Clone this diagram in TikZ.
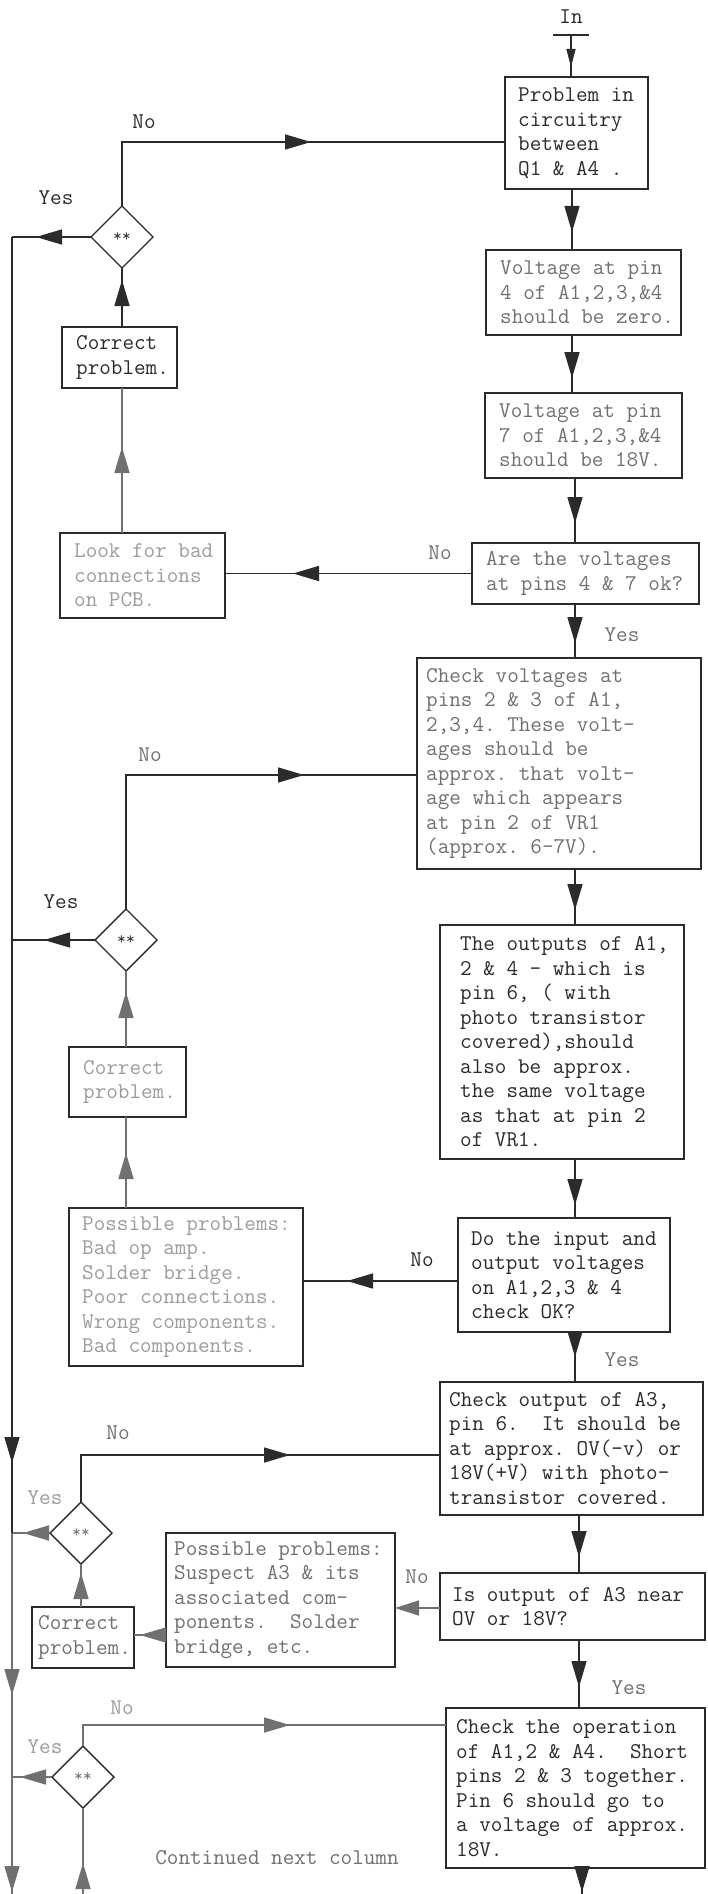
\documentclass[tikz,border=0pt]{standalone}
\usepackage{fontspec}
\usetikzlibrary{arrows.meta,decorations.markings,shapes.geometric}
\definecolor{ink}{HTML}{2B2B2B}
\definecolor{fade}{HTML}{707070}
\definecolor{pale}{HTML}{9C9C9C}
\newcommand{\typeface}{\ttfamily\fontsize{22.5}{24.5}\selectfont}
\newcommand{\starface}{\ttfamily\fontsize{17}{17}\selectfont}
\frenchspacing
\tikzset{
  frame/.style={draw=ink, line width=1.4pt, inner sep=0pt, outer sep=0pt},
  txt/.style={font=\typeface, align=left, inner sep=0pt, anchor=west, text=ink},
  lbl/.style={font=\typeface, inner sep=0pt, text=ink},
  decide/.style={draw=ink, diamond, line width=1.4pt, minimum width=62pt,
    minimum height=62pt, inner sep=0pt, outer sep=0pt, font=\starface, text=ink},
  wire/.style={draw=ink, line width=1.5pt},
  tipat/.style={postaction={decorate}, decoration={markings,
    mark=at position #1 with {\arrow{Triangle[length=26pt,width=15pt]}}}},
  tipsmall/.style={postaction={decorate}, decoration={markings,
    mark=at position #1 with {\arrow{Triangle[length=18pt,width=9pt]}}}},
}
\begin{document}
\begin{tikzpicture}[x=1pt,y=-1pt]
\useasboundingbox (0,0) rectangle (707,1894);
\fill[white] (0,0) rectangle (707,1894);

% guide coordinates
\coordinate (trunk) at (12,0);
\coordinate (bot) at (0,1894);
\coordinate (colA) at (572,0);
\coordinate (colB) at (575,0);
\coordinate (colC) at (579,0);
\coordinate (colD) at (582,0);
\coordinate (r1) at (0,142);
\coordinate (r2) at (0,775);
\coordinate (r3) at (0,1281);
\coordinate (r4) at (0,1455);
\coordinate (r5) at (0,1608);
\coordinate (r6) at (0,1635);
\coordinate (r7) at (0,1725);
\coordinate (in) at (571,35);

% ---------- main column ----------
\node[frame, minimum width=143pt, minimum height=112pt] (b1) at (576.5,133) {};
\node[txt] (b1t) at ([xshift=13pt]b1.west) {Problem in\\circuitry\\between\\Q1 \& A4 .};

\node[frame, minimum width=195pt, minimum height=85pt] (b2) at (583.5,292.5) {};
\node[txt, text=fade] (b2t) at ([xshift=14pt]b2.west) {Voltage at pin\\4 of A1,2,3,\&4\\should be zero.};

\node[frame, minimum width=197pt, minimum height=85pt] (b3) at (583.5,435.5) {};
\node[txt, text=fade] (b3t) at ([xshift=14pt]b3.west) {Voltage at pin\\7 of A1,2,3,\&4\\should be 18V.};

\node[frame, minimum width=227pt, minimum height=61pt] (b4) at (585.5,573.5) {};
\node[txt, text=fade] (b4t) at ([xshift=14pt]b4.west) {Are the voltages\\at pins 4 \& 7 ok?};

\node[frame, minimum width=284pt, minimum height=211pt] (b5) at (559,763.5) {};
\node[txt, text=fade] (b5t) at ([xshift=9pt]b5.west) {Check voltages at\\pins 2 \& 3 of A1,\\2,3,4. These volt-\\ages should be\\approx. that volt-\\age which appears\\at pin 2 of VR1\\(approx. 6-7V).};

\node[frame, minimum width=244pt, minimum height=234pt] (b6) at (562,1042) {};
\node[txt] (b6t) at ([xshift=20pt]b6.west) {The outputs of A1,\\2 \& 4 - which is\\pin 6, ( with\\photo transistor\\covered),should\\also be approx.\\the same voltage\\as that at pin 2\\of VR1.};

\node[frame, minimum width=212pt, minimum height=114pt] (b7) at (564,1275) {};
\node[txt] (b7t) at ([xshift=13pt]b7.west) {Do the input and\\output voltages\\on A1,2,3 \& 4\\check OK?};

\node[frame, minimum width=263pt, minimum height=133pt] (b8) at (571.5,1448.5) {};
\node[txt] (b8t) at ([xshift=9pt]b8.west) {Check output of A3,\\pin 6.~ It should be\\at approx. OV(-v) or\\18V(+V) with photo-\\transistor covered.};

\node[frame, minimum width=265pt, minimum height=67pt] (b9) at (572.5,1606.5) {};
\node[txt] (b9t) at ([xshift=12pt]b9.west) {Is output of A3 near\\OV or 18V?};

\node[frame, minimum width=259pt, minimum height=160pt] (b10) at (575.5,1788) {};
\node[txt] (b10t) at ([xshift=10pt]b10.west) {Check the operation\\of A1,2 \& A4.~ Short\\pins 2 \& 3 together.\\Pin 6 should go to\\a voltage of approx.\\18V.};

% ---------- side boxes ----------
\node[frame, minimum width=115pt, minimum height=61pt] (l1) at (119.5,357.5) {};
\node[txt] (l1t) at ([xshift=14pt]l1.west) {Correct\\problem.};

\node[frame, minimum width=165pt, minimum height=85pt] (l2) at (142.5,575.5) {};
\node[txt, text=pale] (l2t) at ([xshift=14pt]l2.west) {Look for bad\\connections\\on PCB.};

\node[frame, minimum width=117pt, minimum height=70pt] (l3) at (127.5,1082) {};
\node[txt, text=pale] (l3t) at ([xshift=14pt]l3.west) {Correct\\problem.};

\node[frame, minimum width=234pt, minimum height=158pt] (l4) at (186,1287) {};
\node[txt, text=pale] (l4t) at ([xshift=13pt]l4.west) {Possible problems:\\Bad op amp.\\Solder bridge.\\Poor connections.\\Wrong components.\\Bad components.};

\node[frame, minimum width=229pt, minimum height=134pt] (l5) at (280.5,1600) {};
\node[txt, text=fade] (l5t) at ([xshift=8pt]l5.west) {Possible problems:\\Suspect A3 \& its\\associated com-\\ponents.~ Solder\\bridge, etc.};

\node[frame, minimum width=102pt, minimum height=61pt] (l6) at (83,1637.5) {};
\node[txt, text=fade] (l6t) at ([xshift=6pt]l6.west) {Correct\\problem.};

% ---------- decisions ----------
\node[decide] (d1) at (122,237) {**};
\node[decide] (d2) at (126,940) {**};
\node[decide, text=fade] (d3) at (81,1533) {**};
\node[decide, text=fade] (d4) at (83,1777) {**};

% ---------- labels ----------
\node[lbl] (in-l) at (571,17) {In};
\node[lbl] (no1) at (144,122) {No};
\node[lbl] (yes1) at (56,198) {Yes};
\node[lbl, text=fade] (no2) at (440,553) {No};
\node[lbl, text=fade] (yes2) at (622,635) {Yes};
\node[lbl, text=fade] (no3) at (150,755) {No};
\node[lbl] (yes3) at (61,902) {Yes};
\node[lbl] (no4) at (422,1260) {No};
\node[lbl, text=fade] (yes4) at (622,1360) {Yes};
\node[lbl, text=fade] (no5) at (118,1433) {No};
\node[lbl, text=pale] (yes5) at (45,1498) {Yes};
\node[lbl, text=fade] (no6) at (417,1577) {No};
\node[lbl, text=fade] (yes6) at (629,1688) {Yes};
\node[lbl, text=pale] (no7) at (122,1708) {No};
\node[lbl, text=pale] (yes7) at (45,1747) {Yes};
\node[lbl, text=fade] (cont) at (277,1858) {Continued next column};

% ---------- entry ----------
\draw[ink, line width=2.4pt] ([xshift=-18pt]in) -- ([xshift=18pt]in);
\draw[wire, tipsmall=32pt] (in) -- (in |- b1.north);

% ---------- main column flow ----------
\draw[wire, tipat=43pt] (b1.south -| colA) -- (b2.north -| colA);
\draw[wire, tipat=43pt] (b2.south -| colA) -- (b3.north -| colA);
\draw[wire, tipat=45pt] (b3.south -| colB) -- (b4.north -| colB);
\draw[wire, tipat=39pt] (b4.south -| colB) -- (b5.north -| colB);
\draw[wire, tipat=41pt] (b5.south -| colB) -- (b6.north -| colB);
\draw[wire, tipat=46pt] (b6.south -| colB) -- (b7.north -| colB);
\draw[wire, tipat=25pt] (b7.south -| colB) -- (b8.north -| colB);
\draw[wire, tipat=42pt] (b8.south -| colC) -- (b9.north -| colC);
\draw[wire, tipat=47pt] (b9.south -| colC) -- (b10.north -| colC);
\draw[wire, tipat=24pt] (b10.south -| colD) -- (colD |- bot);

% ---------- first loop ----------
\draw[wire, tipat=179pt] (b4.west) -- (b4.west -| l2.east);
\draw[wire, draw=fade, tipat=86pt] (l2.north -| d1) -- (l1.south -| d1);
\draw[wire, tipat=47pt] (l1.north -| d1) -- (d1.south);
\draw[wire, tipat=253pt] (d1.north) |- (b1.west |- r1);
\draw[wire, tipat=55pt] (d1.west) -- (d1.west -| trunk);

% ---------- second loop ----------
\draw[wire, tipat=111pt] (b7.west |- r3) -- (l4.east |- r3);
\draw[wire, draw=fade, tipat=55pt] (l4.north -| d2) -- (l3.south -| d2);
\draw[wire, draw=fade, tipat=55pt] (l3.north -| d2) -- (d2.south);
\draw[wire, tipat=312pt] (d2.north) |- (b5.west |- r2);
\draw[wire, tipat=51pt] (d2.west) -- (d2.west -| trunk);

% ---------- third loop ----------
\draw[wire, draw=fade, -{Triangle[length=24pt,width=15pt]}] (b9.west |- r5) -- (l5.east |- r5);
\draw[wire, draw=fade, tipat=26pt] (l5.west |- r6) -- (l6.east |- r6);
\draw[wire, draw=fade, tipat=34pt] (l6.north -| d3) -- (d3.south);
\draw[wire, tipat=256pt] (d3.north) |- (b8.west |- r4);
\draw[wire, draw=fade, tipat=27pt] (d3.west) -- (d3.west -| trunk);

% ---------- fourth loop ----------
\draw[wire, draw=fade, tipat=228pt] (d4.north) |- (b10.west |- r7);
\draw[wire, draw=fade, tipat=32pt] (d4.west) -- (d4.west -| trunk);
\draw[wire, draw=fade, tipat=31pt] (d4.south |- bot) -- (d4.south);

% ---------- return trunk ----------
\draw[wire] (d1.west -| trunk) -- (d2.west -| trunk);
\draw[wire, tipat=523pt] (d2.west -| trunk) -- (d3.west -| trunk);
\draw[wire, draw=fade, tipat=162pt] (d3.west -| trunk) -- (d4.west -| trunk);
\draw[wire, draw=fade, tipat=115pt] (d4.west -| trunk) -- (trunk |- bot);
\end{tikzpicture}
\end{document}
